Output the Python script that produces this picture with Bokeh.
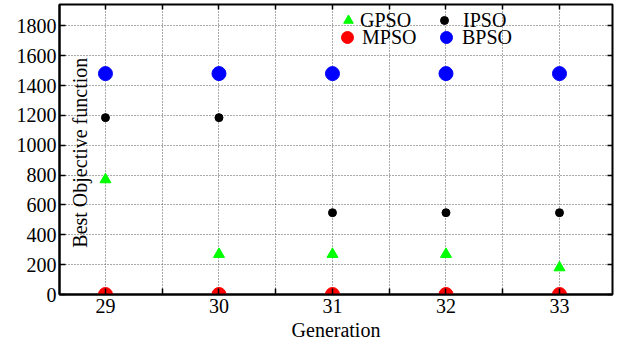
from bokeh.plotting import figure
from bokeh.models import Range1d, FixedTicker, LinearAxis, Legend, LegendItem, Label
from bokeh.embed import file_html
from bokeh.resources import INLINE

generations = [29, 30, 31, 32, 33]
gpso = [770, 270, 270, 270, 180]
ipso = [1185, 1185, 548, 548, 548]
mpso = [0, 0, 0, 0, 0]
bpso = [1480, 1480, 1480, 1480, 1480]
x_ticks = [29, 30, 31, 32, 33]
x_minor_ticks = [28.5, 29.5, 30.5, 31.5, 32.5, 33.5]
y_ticks = [0, 200, 400, 600, 800, 1000, 1200, 1400, 1600, 1800]

FONT = "Liberation Serif"
TXT = "black"

p = figure(width=624, height=343, output_backend="svg", toolbar_location=None,
           x_range=Range1d(28.595, 33.467), y_range=Range1d(0, 1943),
           min_border_left=59, min_border_right=12, min_border_top=4, min_border_bottom=10)

p.outline_line_color = "black"
p.outline_line_width = 2
p.background_fill_color = "white"
p.border_fill_color = "white"

xt = FixedTicker(ticks=x_ticks, minor_ticks=x_minor_ticks)
yt = FixedTicker(ticks=y_ticks)

p.xaxis.ticker = xt
p.yaxis.ticker = yt
for ax in [p.xaxis, p.yaxis]:
    ax.axis_line_width = 2
    ax.axis_line_color = "black"
    ax.major_tick_in = 6
    ax.major_tick_out = 0
    ax.minor_tick_in = 6
    ax.minor_tick_out = 0
    ax.major_tick_line_width = 1.5
    ax.minor_tick_line_width = 1.5
    ax.major_label_text_font = FONT
    ax.major_label_text_font_size = "20px"
    ax.major_label_text_color = TXT
p.yaxis.minor_tick_in = 0
p.xaxis.major_label_standoff = 4
p.yaxis.major_label_standoff = 3
p.xaxis.axis_label = "Generation"
p.xaxis.axis_label_text_font = FONT
p.xaxis.axis_label_text_font_size = "20px"
p.xaxis.axis_label_text_font_style = "normal"
p.xaxis.axis_label_standoff = 3
p.xaxis.axis_label_text_color = TXT

top_ax = LinearAxis(ticker=xt, major_label_text_font_size="0px", major_label_standoff=0,
                    major_tick_in=5, major_tick_out=0, minor_tick_in=5, minor_tick_out=0,
                    axis_line_color=None, major_tick_line_width=1.5, minor_tick_line_width=1.5)
right_ax = LinearAxis(ticker=yt, major_label_text_font_size="0px", major_label_standoff=0,
                      major_tick_in=5, major_tick_out=0, minor_tick_in=0, minor_tick_out=0,
                      axis_line_color=None, major_tick_line_width=1.5)
p.add_layout(top_ax, "above")
p.add_layout(right_ax, "right")

p.xgrid.ticker = xt
p.ygrid.ticker = yt
for g in [p.xgrid[0], p.ygrid[0]]:
    g.grid_line_color = "#555555"
    g.grid_line_dash = "1 2"
    g.grid_line_width = 1
p.xgrid.minor_grid_line_color = "#555555"
p.xgrid.minor_grid_line_dash = "1 2"

r_g = p.scatter(generations, gpso, marker="triangle", size=11, color="#00ff00")
r_i = p.scatter(generations, ipso, marker="circle", size=8, color="black")
r_m = p.scatter(generations, mpso, marker="circle", size=14, color="#ff0000")
r_b = p.scatter(generations, bpso, marker="circle", size=14, color="#0000ff")

def mk_legend(label, rend, loc, gw, gh, standoff):
    return Legend(items=[LegendItem(label=label, renderers=[rend])], location=loc,
                  border_line_color=None, background_fill_alpha=0,
                  label_text_font=FONT, label_text_font_size="20px", label_text_color=TXT,
                  glyph_width=gw, glyph_height=gh, label_height=gh,
                  label_standoff=standoff, spacing=0, padding=0, margin=0)

p.add_layout(mk_legend("GPSO", r_g, (277, 261), 24, 26, 0), "center")
p.add_layout(mk_legend("MPSO", r_m, (273, 241), 30, 32, 0), "center")
p.add_layout(mk_legend("IPSO", r_i, (375, 262), 20, 24, 9), "center")
p.add_layout(mk_legend("BPSO", r_b, (372, 241), 30, 32, 1), "center")

ylab = Label(x=28.78, y=950, text="Best Objective function", angle=1.5708,
             text_font=FONT, text_font_size="20px", text_align="center",
             text_baseline="middle", text_color=TXT)
p.add_layout(ylab)

open("out.html", "w").write(file_html(p, INLINE))
